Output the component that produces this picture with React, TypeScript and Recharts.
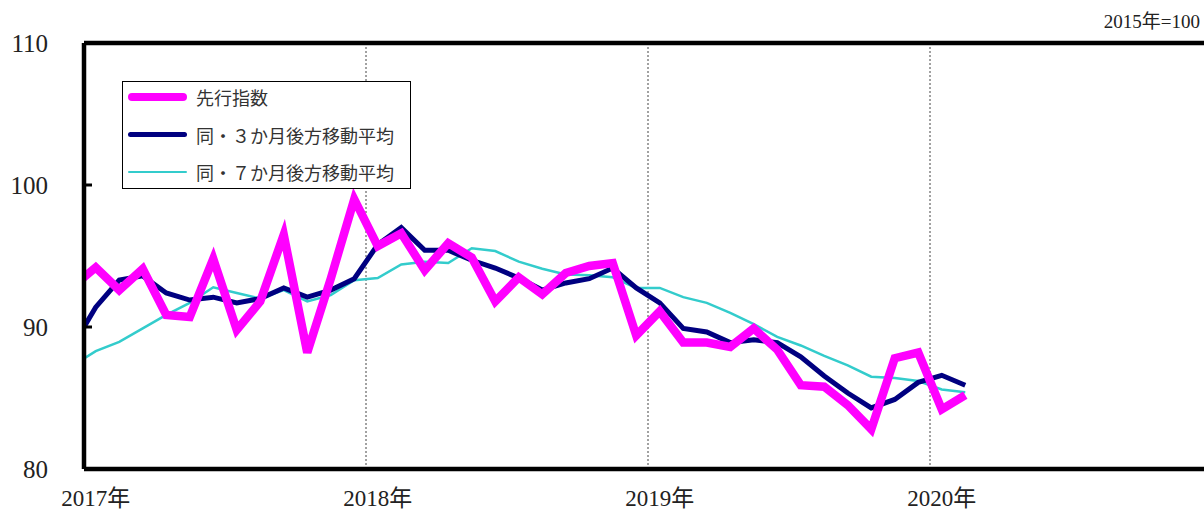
import { LineChart, Line, XAxis, YAxis, ReferenceLine } from 'recharts';

// Dec 2016 .. Feb 2020 (the Dec 2016 point only shows as the clipped lead-in segment)
const months = [
  '2016-12',
  '2017-01', '2017-02', '2017-03', '2017-04', '2017-05', '2017-06',
  '2017-07', '2017-08', '2017-09', '2017-10', '2017-11', '2017-12',
  '2018-01', '2018-02', '2018-03', '2018-04', '2018-05', '2018-06',
  '2018-07', '2018-08', '2018-09', '2018-10', '2018-11', '2018-12',
  '2019-01', '2019-02', '2019-03', '2019-04', '2019-05', '2019-06',
  '2019-07', '2019-08', '2019-09', '2019-10', '2019-11', '2019-12',
  '2020-01', '2020-02',
];

const leading = [
  92.8,
  94.2, 92.6, 94.1, 90.85, 90.7, 94.8, 89.8, 91.8, 96.5, 88.2, 93.4, 99.0,
  95.7, 96.6, 94.0, 95.9, 94.9, 91.8, 93.5, 92.3, 93.8, 94.3, 94.5, 89.4,
  91.1, 88.9, 88.9, 88.6, 89.9, 88.4, 85.9, 85.8, 84.5, 82.8, 87.8, 88.2,
  84.2, 85.2,
];

const avg3 = [
  88.6,
  91.4, 93.3, 93.6, 92.4, 91.9, 92.1, 91.7, 92.0, 92.75, 92.1, 92.6, 93.4,
  95.8, 97.0, 95.4, 95.4, 94.7, 94.15, 93.45, 92.6, 93.1, 93.4, 94.15, 92.75,
  91.7, 89.9, 89.65, 88.9, 89.1, 88.9, 87.9, 86.55, 85.35, 84.3, 84.9, 86.1,
  86.6, 85.9,
];

const avg7 = [
  87.25,
  88.3, 88.95, 89.9, 90.85, 91.7, 92.8, 92.4, 92.0, 92.6, 91.8, 92.25, 93.3,
  93.45, 94.4, 94.6, 94.5, 95.55, 95.35, 94.6, 94.1, 93.7, 93.65, 93.5, 92.75,
  92.75, 92.1, 91.7, 91.0, 90.2, 89.3, 88.7, 87.96, 87.3, 86.5, 86.4, 86.2,
  85.6, 85.4,
];

const yearTicks = [0, 12, 24, 36];
const yearLabels = ['2017年', '2018年', '2019年', '2020年'];
const yTicks = [80, 90, 100, 110];

const SERIF = '"Liberation Serif", "Noto Sans CJK JP", serif';
const CJK = '"Noto Sans CJK JP", sans-serif';

const PLOT_LEFT = 84;
const CHART_W = 1204;
const MONTH_PX = 23.5;
// the axis runs past the right edge of the picture; show only what fits
const X_MAX = (CHART_W - PLOT_LEFT) / MONTH_PX;

// month index i sits in the middle of its month on the month scale
const data = months.map((m, i) => ({
  month: m,
  x: i - 0.5,
  leading: leading[i],
  avg3: avg3[i],
  avg7: avg7[i],
}));

const YTick = (props: any) => {
  const { y, payload } = props;
  const v = payload.value;
  return (
    <g>
      <text x={48} y={y} dy={8.5} textAnchor="end" fontSize={25} fontFamily={SERIF} fill="#222">
        {v}
      </text>
      {v > 80 && v < 110 && (
        <line x1={PLOT_LEFT} x2={PLOT_LEFT + 8} y1={y} y2={y} stroke="#000" strokeWidth={3} />
      )}
    </g>
  );
};

const XTick = (props: any) => {
  const { x, payload } = props;
  const idx = yearTicks.indexOf(payload.value);
  return (
    <text x={x + MONTH_PX / 2} y={506} textAnchor="middle" fontSize={23} fontFamily={SERIF} fill="#222">
      {yearLabels[idx]}
    </text>
  );
};

const legendItems = [
  { label: '先行指数', color: '#ff00ff', width: 8 },
  { label: '同・３か月後方移動平均', color: '#000080', width: 5 },
  { label: '同・７か月後方移動平均', color: '#33cccc', width: 2 },
];

export default function App() {
  return (
    <div
      style={{
        position: 'fixed',
        left: 0,
        top: 0,
        width: CHART_W,
        height: 511,
        background: '#fff',
      }}
    >
      <LineChart
        width={CHART_W}
        height={511}
        data={data}
        margin={{ top: 43, right: 0, bottom: 0, left: 0 }}
      >
        <XAxis
          dataKey="x"
          type="number"
          domain={[0, X_MAX]}
          ticks={yearTicks}
          allowDataOverflow
          height={42}
          axisLine={false}
          tickLine={false}
          tick={<XTick />}
          interval={0}
        />
        <YAxis
          domain={[80, 110]}
          ticks={yTicks}
          allowDataOverflow
          width={84}
          axisLine={{ stroke: '#000', strokeWidth: 4.5 }}
          tickLine={false}
          tick={<YTick />}
          interval={0}
        />
        {yearTicks.slice(1).map((t) => (
          <ReferenceLine key={t} x={t} stroke="#444" strokeWidth={1} strokeDasharray="2 2" />
        ))}
        <Line
          dataKey="avg7"
          stroke="#33cccc"
          strokeWidth={2.5}
          dot={false}
          isAnimationActive={false}
        />
        <Line
          dataKey="avg3"
          stroke="#000080"
          strokeWidth={5}
          dot={false}
          isAnimationActive={false}
        />
        <Line
          dataKey="leading"
          stroke="#ff00ff"
          strokeWidth={8.5}
          dot={false}
          isAnimationActive={false}
        />
        <ReferenceLine y={110} stroke="#000" strokeWidth={4.5} />
        <ReferenceLine y={80} stroke="#000" strokeWidth={4.5} />
      </LineChart>

      <div
        style={{
          position: 'absolute',
          right: 4,
          top: 11,
          fontFamily: SERIF,
          fontSize: 19,
          color: '#222',
          lineHeight: '22px',
        }}
      >
        2015年=100
      </div>

      <div
        style={{
          position: 'absolute',
          left: 122,
          top: 81,
          width: 287,
          height: 106,
          border: '1.5px solid #000',
          background: '#fff',
        }}
      >
        {legendItems.map((it, i) => (
          <div
            key={it.label}
            style={{
              position: 'absolute',
              left: 5,
              top: 15 + i * 37.5 - 12,
              height: 24,
              display: 'flex',
              alignItems: 'center',
            }}
          >
            <div
              style={{
                width: 59,
                height: it.width,
                background: it.color,
                borderRadius: it.width / 2,
              }}
            />
            <span
              style={{
                marginLeft: 9,
                fontFamily: CJK,
                fontSize: 18,
                color: '#333',
                whiteSpace: 'nowrap',
              }}
            >
              {it.label}
            </span>
          </div>
        ))}
      </div>
    </div>
  );
}
